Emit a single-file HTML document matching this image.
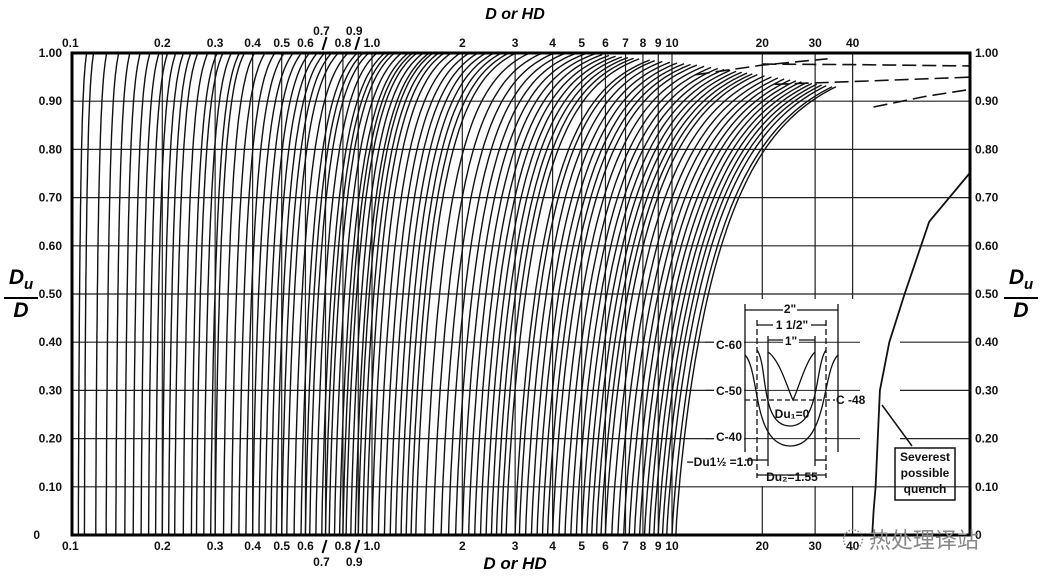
<!DOCTYPE html>
<html><head><meta charset="utf-8">
<style>
body{margin:0;background:#fff;}
svg{display:block;font-family:"Liberation Sans","Noto Sans CJK SC",sans-serif;}
.t{font-size:12px;font-weight:bold;fill:#111;}
</style></head>
<body>
<svg id="chart" width="1040" height="583" viewBox="0 0 1040 583">
<rect width="1040" height="583" fill="#fff"/>
<g id="grid"></g>
<g id="curves"></g>
<g id="inset"></g>
<g id="axes"></g>
</svg>
<script>
const curveBases=[0.105,0.11,0.12,0.13,0.14,0.15,0.16,0.17,0.18,0.19,0.20,0.21,0.22,0.235,0.25,0.26,0.275,0.29,0.30,0.32,0.34,0.36,0.38,0.40,0.42,0.44,0.46,0.48,0.50,0.52,0.55,0.58,0.6,0.62,0.65,0.68,0.7,0.72,0.75,0.78,0.8,0.82,0.85,0.88,0.9,0.93,0.96,1.0,1.05,1.1,1.15,1.2,1.25,1.3,1.35,1.4,1.5,1.6,1.7,1.8,1.9,2.0,2.1,2.2,2.3,2.4,2.5,2.6,2.7,2.8,3.0,3.1,3.25,3.4,3.55,3.7,3.85,4.0,4.2,4.4,4.6,4.8,5.0,5.2,5.4,5.6,5.8,6.0,6.3,6.6,6.9,7.2,7.5,7.8,8.1,8.4,8.7,9.0,9.3,9.6,10.0,10.3];
const quenchD=[46.5,47,47.7,49.3,53,59.6,72,98];
const quenchF=[0,0.05,0.1,0.3,0.4,0.5,0.65,0.75];
const dash1D=[12,20,33];const dash1F=[0.955,0.975,0.988];
const dash2D=[20,40,100];const dash2F=[0.977,0.976,0.973];
const dash3D=[22,45,100];const dash3F=[0.935,0.942,0.95];
const dash4D=[47,70,100];const dash4F=[0.888,0.91,0.925];
const xTicks=[0.1,0.2,0.3,0.4,0.5,0.6,0.7,0.8,0.9,1,2,3,4,5,6,7,8,9,10,20,30,40];
const xTickLabels=["0.1","0.2","0.3","0.4","0.5","0.6","0.7","0.8","0.9","1.0","2","3","4","5","6","7","8","9","10","20","30","40"];
const yTicks=[0,0.1,0.2,0.3,0.4,0.5,0.6,0.7,0.8,0.9,1.0];
const yTickLabels=["0","0.10","0.20","0.30","0.40","0.50","0.60","0.70","0.80","0.90","1.00"];

const NS="http://www.w3.org/2000/svg";
const L=72,R=970,T=53,B=535;
const xS=v=>L+300*(Math.log10(v)+1);
const yS=f=>B-(B-T)*f;
function mk(tag,attrs,parent,txt){const e=document.createElementNS(NS,tag);for(const k in attrs)e.setAttribute(k,attrs[k]);if(txt!==undefined)e.textContent=txt;parent.appendChild(e);return e;}
const grid=document.getElementById('grid'),curves=document.getElementById('curves'),inset=document.getElementById('inset'),axes=document.getElementById('axes');

yTicks.forEach((f,i)=>{if(i===0||i===yTicks.length-1)return;const l=mk('line',{x1:L,x2:R,y1:yS(f),y2:yS(f),stroke:'#222','stroke-width':1.2},grid);

});
xTicks.forEach((v,i)=>{if(i===0)return;const l=mk('line',{x1:xS(v),x2:xS(v),y1:T,y2:B,stroke:'#222','stroke-width':1.2},grid);

});

const defs=mk('defs',{},document.getElementById('chart'));
const cp=mk('clipPath',{id:'pc'},defs);mk('rect',{x:L,y:T,width:R-L,height:B-T},cp);
curves.setAttribute('clip-path','url(#pc)');

function interp(pts,u){if(u<=pts[0][0])return pts[0][1];for(let i=0;i<pts.length-1;i++){if(u<=pts[i+1][0]){const t=(u-pts[i][0])/(pts[i+1][0]-pts[i][0]);return pts[i][1]+t*(pts[i+1][1]-pts[i][1]);}}return pts[pts.length-1][1];}
const ampPts=[[-1,0.006],[-0.5,0.025],[0,0.065],[0.5,0.11],[1,0.17]];
const cPts=[[0,0.96],[1,0.995]];
const endPts=[[0.3,1.0],[0.6,0.975],[1,0.93]];
curveBases.forEach(b=>{const u0=Math.log10(b);const a=interp(ampPts,u0);
 const c=interp(cPts,u0);
 const h=f=>Math.pow(-Math.log(1-c*f),1.2);
 const fEnd=interp(endPts,u0);
 let d='';const N=60;for(let k=0;k<=N;k++){const s=k/N;const f=fEnd*(1-Math.pow(1-s,2));const u=u0+a*h(f);d+=(k?'L':'M')+xS(Math.pow(10,u)).toFixed(1)+','+yS(f).toFixed(1);}
 const p=mk('path',{d:d,fill:'none',stroke:'#111','stroke-width':1.4},curves);
 
 });

function series(D,F,parent,extra){let d='';D.forEach((v,i)=>{d+=(i?'L':'M')+xS(v).toFixed(1)+','+yS(F[i]).toFixed(1);});const a={d:d,fill:'none',stroke:'#111','stroke-width':1.6};for(const k in extra)a[k]=extra[k];return mk('path',a,parent);}
[[dash1D,dash1F],[dash2D,dash2F],[dash3D,dash3F],[dash4D,dash4F]].forEach(s=>{const p=series(s[0],s[1],curves,{'stroke-dasharray':'14,6'});

});

mk('rect',{x:742,y:299,width:226,height:187,fill:'#fff'},inset);
[0.4,0.3,0.2].forEach(r=>{const y=yS(r);mk('line',{x1:705,x2:745,y1:y,y2:y,stroke:'#222','stroke-width':1.2},inset);mk('line',{x1:745,x2:860,y1:y,y2:y,stroke:'#222','stroke-width':1},inset);mk('line',{x1:900,x2:968,y1:y,y2:y,stroke:'#222','stroke-width':1.2},inset);});
const q=series(quenchD,quenchF,inset,{'stroke-width':1.8});


const ig=mk('g',{stroke:'#111','stroke-width':1.3,fill:'none'},inset);
mk('path',{d:'M745,355 C760,370 752,445 790,446 C828,446 822,370 838,355'},ig);
mk('path',{d:'M757,350 C768,365 760,426 790,426 C820,426 815,365 826,350'},ig);
mk('path',{d:'M768,352 C780,360 788,390 793,400 C798,390 806,360 815,352'},ig);
mk('line',{x1:745,x2:835,y1:400,y2:400,'stroke-dasharray':'5,3'},ig);
[745,838].forEach(x=>mk('line',{x1:x,x2:x,y1:304,y2:452},ig));
[757,826].forEach(x=>mk('line',{x1:x,x2:x,y1:320,y2:478,'stroke-dasharray':'6,3'},ig));
[768,815].forEach(x=>mk('line',{x1:x,x2:x,y1:336,y2:466},ig));
mk('line',{x1:745,x2:838,y1:310,y2:310},ig);mk('line',{x1:757,x2:826,y1:325,y2:325},ig);mk('line',{x1:768,x2:815,y1:340,y2:340},ig);
mk('line',{x1:745,x2:768,y1:460,y2:460},ig);mk('line',{x1:815,x2:826,y1:460,y2:460},ig);
mk('line',{x1:757,x2:826,y1:475,y2:475},ig);
mk('rect',{x:895,y:448,width:60,height:52,'stroke-width':1.5},ig);
mk('line',{x1:912,y1:446,x2:882,y2:405,'stroke-width':1.5},ig);
const it=(x,y,s,anchor)=>{const e=mk('text',{x:x,y:y,'class':'t','text-anchor':anchor||'middle','font-size':'11'},inset,s);return e;};
mk('rect',{x:783,y:302,width:14,height:12,fill:'#fff'},inset);it(790,313,'2"');
mk('rect',{x:773,y:318,width:38,height:12,fill:'#fff'},inset);it(792,329,'1 1/2"');
mk('rect',{x:783,y:334,width:16,height:12,fill:'#fff'},inset);it(791,345,'1"');
mk('rect',{x:714,y:338,width:30,height:14,fill:'#fff'},inset);it(729,349,'C-60');
mk('rect',{x:714,y:384,width:30,height:14,fill:'#fff'},inset);it(729,395,'C-50');
mk('rect',{x:714,y:430,width:30,height:14,fill:'#fff'},inset);it(729,441,'C-40');
it(836,404,'C -48','start');
it(792,418,'Du₁=0');
it(720,466,'−Du1½ =1.0');
it(792,481,'Du₂=1.55');
it(925,461,'Severest');it(925,477,'possible');it(925,493,'quench');

const fr=mk('rect',{x:L,y:T,width:R-L,height:B-T,fill:'none',stroke:'#000','stroke-width':3},axes);


xTicks.forEach((v,i)=>{const lab=xTickLabels[i];let x=xS(v);
 if(lab==='0.7'||lab==='0.9'){mk('text',{x:x-4,y:566,'class':'t','text-anchor':'middle'},axes,lab);mk('text',{x:x-4,y:35,'class':'t','text-anchor':'middle'},axes,lab);
  mk('line',{x1:x-3,y1:553,x2:x+1,y2:540,stroke:'#000','stroke-width':2},axes);mk('line',{x1:x-3,y1:50,x2:x+1,y2:37,stroke:'#000','stroke-width':2},axes);return;}
 const a=(i===0)?'start':'middle';const xx=(i===0)?62:x;
 const b=mk('text',{x:xx,y:550,'class':'t','text-anchor':a},axes,lab);
 
 
 const t=mk('text',{x:xx,y:47,'class':'t','text-anchor':a},axes,lab);
 
 });
yTicks.forEach((f,i)=>{const y=yS(f)+4;
 const l=mk('text',{x:i===0?40:62,y:y,'class':'t','text-anchor':'end'},axes,yTickLabels[i]);
 
 
 const r=mk('text',{x:975,y:y,'class':'t','text-anchor':'start'},axes,yTickLabels[i]);
 
 });
</script>
<div style="position:absolute;left:0;top:0;width:1040px;height:583px;pointer-events:none;font-family:'Liberation Sans',sans-serif;">
<div style="position:absolute;left:470px;top:6px;width:90px;text-align:center;font:italic bold 16px 'Liberation Sans',sans-serif;">D or HD</div>
<div style="position:absolute;left:470px;top:554px;width:90px;text-align:center;font:italic bold 17px 'Liberation Sans',sans-serif;">D or HD</div>
<div style="position:absolute;left:4px;top:266px;width:34px;text-align:center;font:italic bold 21px 'Liberation Sans',sans-serif;line-height:24px;"><div style="border-bottom:2px solid #000;">D<sub style="font-size:15px">u</sub></div><div>D</div></div>
<div style="position:absolute;left:1004px;top:266px;width:34px;text-align:center;font:italic bold 21px 'Liberation Sans',sans-serif;line-height:24px;"><div style="border-bottom:2px solid #000;">D<sub style="font-size:15px">u</sub></div><div>D</div></div>
<div style="position:absolute;left:842px;top:523px;font:22px 'Noto Sans CJK SC',sans-serif;color:#888;">◌ 热处理译站</div>
</div>
</body></html>
